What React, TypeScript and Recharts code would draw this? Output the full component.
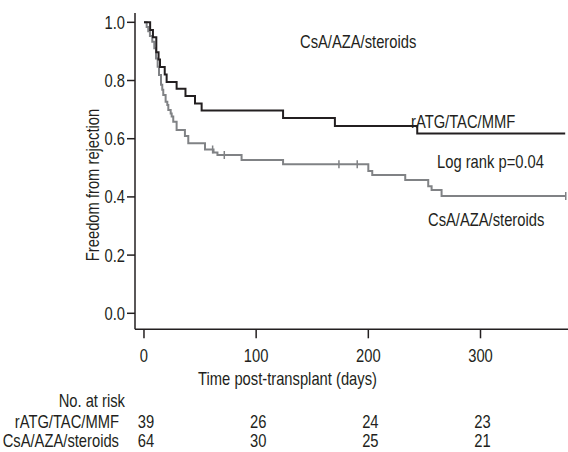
import React from "react";
import { LineChart, Line, XAxis, YAxis } from "recharts";

// rATG/TAC/MMF arm (n = 39)
const RATG_DAYS = [0, 5.5, 8, 11, 13, 14.3, 18.5, 20.2, 29.1, 37, 45.5, 51.4, 124, 170.2, 243.6, 375.5];
const RATG_SURV = [1, 0.974, 0.949, 0.897, 0.872, 0.846, 0.821, 0.795, 0.772, 0.747, 0.721, 0.697, 0.671, 0.644, 0.618, 0.618];

// CsA/AZA/steroids arm (n = 64)
const CSA_DAYS = [
  0, 2.4, 3.8, 5.3, 7.4, 9.2, 10.7, 12.2, 13.4, 15.2, 16.3, 17.2, 19.3, 20.8, 21.7, 23.8, 24.7,
  26.1, 29.1, 36.5, 39.5, 54.4, 61.2, 62, 65.5, 71.6, 87, 124, 173.8, 190.1, 200, 203.5, 232.9,
  253.4, 256.4, 265.3, 376,
];
const CSA_SURV = [
  1, 0.984, 0.969, 0.953, 0.933, 0.911, 0.876, 0.847, 0.819, 0.785, 0.768, 0.75, 0.727, 0.716,
  0.699, 0.687, 0.676, 0.658, 0.63, 0.609, 0.584, 0.563, 0.563, 0.553, 0.544, 0.544, 0.527, 0.512,
  0.512, 0.512, 0.489, 0.475, 0.458, 0.437, 0.424, 0.403, 0.403,
];
const CSA_CENSORED = [61.2, 71.6, 173.8, 190.1, 376];

const X_TICKS = [0, 100, 200, 300];
const Y_TICKS = [0, 0.2, 0.4, 0.6, 0.8, 1.0];
const RISK_RATG = [39, 26, 24, 23];
const RISK_CSA = [64, 30, 25, 21];

// no condensed face installed: squeeze Liberation Sans horizontally
const FONT = "'Liberation Sans', Arial, sans-serif";
const SQUEEZE = 0.82;
const INK = "#231f20";
const GREY = "#808285";
const FS = 18;

const ratgData = RATG_DAYS.map((d, i) => ({ day: d, surv: RATG_SURV[i] }));
const csaData = CSA_DAYS.map((d, i) => ({
  day: d,
  surv: CSA_SURV[i],
  censored: CSA_CENSORED.includes(d),
}));

const NText = ({ x, y, anchor = "start", rotate, children }: any) => (
  <text
    transform={`translate(${x},${y})${rotate ? ` rotate(${rotate})` : ""} scale(${SQUEEZE},1)`}
    textAnchor={anchor}
    fontFamily={FONT}
    fontSize={FS}
    fill={INK}
  >
    {children}
  </text>
);

const RiskTick = (props: any) => {
  const { x, y, payload, index } = props;
  return (
    <g>
      <NText x={x} y={y + 24} anchor="middle">{payload.value}</NText>
      <NText x={x + 2} y={y + 90} anchor="middle">{RISK_RATG[index]}</NText>
      <NText x={x + 2} y={y + 109} anchor="middle">{RISK_CSA[index]}</NText>
    </g>
  );
};

const YTick = (props: any) => {
  const { x, y, payload } = props;
  return <NText x={x} y={y + 6.5} anchor="end">{payload.value.toFixed(1)}</NText>;
};

const CensorDot = (props: any) => {
  const { cx, cy, payload, index } = props;
  if (!payload || !payload.censored) return <g key={`c-${index}`} />;
  return <line key={`c-${index}`} x1={cx} x2={cx} y1={cy - 4} y2={cy + 4} stroke={GREY} strokeWidth={1.5} />;
};

export default function App() {
  return (
    <div style={{ position: "absolute", left: 0, top: 0, width: 568, height: 452, background: "#fff" }}>
      <LineChart width={568} height={452} margin={{ top: 13, right: 0, left: 0, bottom: 0 }}>
        <XAxis
          type="number"
          dataKey="day"
          domain={[-8, 378]}
          allowDataOverflow
          ticks={X_TICKS}
          tickSize={9}
          tickMargin={0}
          height={122.7}
          interval={0}
          axisLine={{ stroke: INK, strokeWidth: 1.5 }}
          tickLine={{ stroke: INK, strokeWidth: 1.5 }}
          tick={<RiskTick />}
        />
        <YAxis
          type="number"
          dataKey="surv"
          domain={[-0.055, 1.032]}
          allowDataOverflow
          ticks={Y_TICKS}
          interval={0}
          width={135}
          tickSize={8}
          tickMargin={2}
          axisLine={{ stroke: INK, strokeWidth: 1.5 }}
          tickLine={{ stroke: INK, strokeWidth: 1.5 }}
          tick={<YTick />}
        />
        <Line
          data={csaData}
          dataKey="surv"
          type="stepAfter"
          stroke={GREY}
          strokeWidth={2}
          dot={<CensorDot />}
          activeDot={false}
          isAnimationActive={false}
        />
        <Line
          data={ratgData}
          dataKey="surv"
          type="stepAfter"
          stroke={INK}
          strokeWidth={2}
          dot={false}
          activeDot={false}
          isAnimationActive={false}
        />
      </LineChart>
      <svg width={568} height={452} style={{ position: "absolute", left: 0, top: 0, pointerEvents: "none" }}>
        <NText x={300} y={48}>CsA/AZA/steroids</NText>
        <NText x={411} y={128}>rATG/TAC/MMF</NText>
        <NText x={437} y={168}>Log rank p=0.04</NText>
        <NText x={428} y={226}>CsA/AZA/steroids</NText>
        <NText x={287.5} y={385} anchor="middle">Time post-transplant (days)</NText>
        <NText x={99} y={185} anchor="middle" rotate={-90}>Freedom from rejection</NText>
        <NText x={125} y={407} anchor="end">No. at risk</NText>
        <NText x={119} y={428} anchor="end">rATG/TAC/MMF</NText>
        <NText x={119} y={447} anchor="end">CsA/AZA/steroids</NText>
      </svg>
    </div>
  );
}
